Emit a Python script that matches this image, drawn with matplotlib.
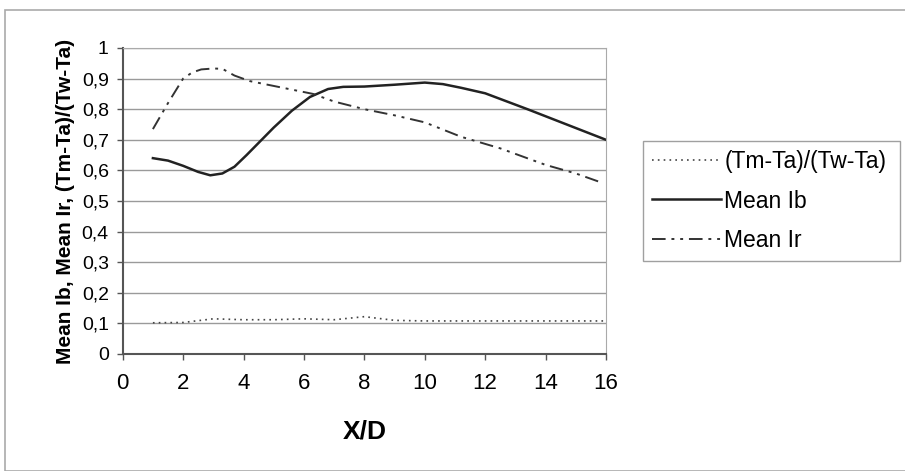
import matplotlib.pyplot as plt
from matplotlib.ticker import FuncFormatter
from matplotlib.patches import Rectangle

plt.rcParams['font.family'] = ['Liberation Sans', 'DejaVu Sans']

# Data
x_tm = [1, 2, 3, 4, 5, 6, 7, 8, 9, 10, 11, 12, 13, 14, 15, 16]
tm_ta = [0.102, 0.103, 0.115, 0.112, 0.112, 0.115, 0.112, 0.122, 0.11, 0.108, 0.108, 0.108, 0.108, 0.108, 0.108, 0.108]

x_ib = [1, 1.5, 2, 2.5, 2.9, 3.3, 3.7, 4.1, 4.5, 5, 5.6, 6.2, 6.8, 7.3, 8, 9, 10, 10.6, 11.2, 12, 13.4, 14.7, 16]
mean_ib = [0.64, 0.632, 0.615, 0.595, 0.584, 0.59, 0.612, 0.65, 0.69, 0.74, 0.795, 0.84, 0.866, 0.873, 0.874, 0.88, 0.887, 0.882, 0.87, 0.852, 0.80, 0.75, 0.70]

x_ir = [1, 1.5, 2, 2.3, 2.6, 3, 3.3, 3.7, 4.2, 5, 6.3, 7, 8, 9, 10, 11.2, 12.5, 14, 15, 15.8]
mean_ir = [0.735, 0.82, 0.90, 0.92, 0.93, 0.933, 0.932, 0.91, 0.892, 0.876, 0.85, 0.825, 0.80, 0.78, 0.757, 0.71, 0.672, 0.618, 0.59, 0.562]

fig = plt.figure(figsize=(9.05, 4.71), dpi=100)
ax = fig.add_axes([122.7 / 905, 1 - 354 / 471, (606 - 122.7) / 905, (354 - 48) / 471])

ax.plot(x_tm, tm_ta, color='#444444', lw=1.2, ls=(0, (1, 2.5)), label='(Tm-Ta)/(Tw-Ta)')
ax.plot(x_ib, mean_ib, color='#222222', lw=1.8, label='Mean Ib')
ax.plot(x_ir, mean_ir, color='#333333', lw=1.4, ls=(0, (7, 3, 1.5, 3, 1.5, 3)), label='Mean Ir')

ax.set_xlim(0, 16)
ax.set_ylim(0, 1)
ax.set_xticks(range(0, 17, 2))
ax.set_yticks([i / 10 for i in range(11)])
ax.yaxis.set_major_formatter(FuncFormatter(lambda v, p: ('%g' % round(v, 1)).replace('.', ',')))
ax.grid(axis='y', color='#9a9a9a', lw=1)
ax.set_axisbelow(True)
ax.tick_params(length=4, color='#555555', width=1)
ax.tick_params(axis='x', labelsize=16, pad=10)
ax.tick_params(axis='y', labelsize=14, pad=6)
for s in ['top', 'right']:
    ax.spines[s].set_color('#aaaaaa')
for s in ['left', 'bottom']:
    ax.spines[s].set_color('#555555')
    ax.spines[s].set_linewidth(1.5)

ax.set_xlabel('X/D', fontsize=19, fontweight='bold', labelpad=18)
ax.set_ylabel('Mean Ib, Mean Ir, (Tm-Ta)/(Tw-Ta)', fontsize=15, fontweight='bold', labelpad=5)

leg = ax.legend(loc='center left', bbox_to_anchor=(643 / 905, 1 - 260 / 471, (900 - 643) / 905, (260 - 142) / 471),
                bbox_transform=fig.transFigure, mode='expand', fontsize=16.5, frameon=True, fancybox=False,
                handlelength=3.0, handletextpad=0.15, labelspacing=0.7, borderaxespad=0, borderpad=0.4)
leg.get_frame().set_edgecolor('#888888')
leg.get_frame().set_linewidth(1)

fig.patches.append(Rectangle((5 / 905, 0), 1, 1 - 10 / 471, transform=fig.transFigure,
                             fill=False, edgecolor='#aaaaaa', lw=1.2))

fig.savefig('out.png', dpi=100)
